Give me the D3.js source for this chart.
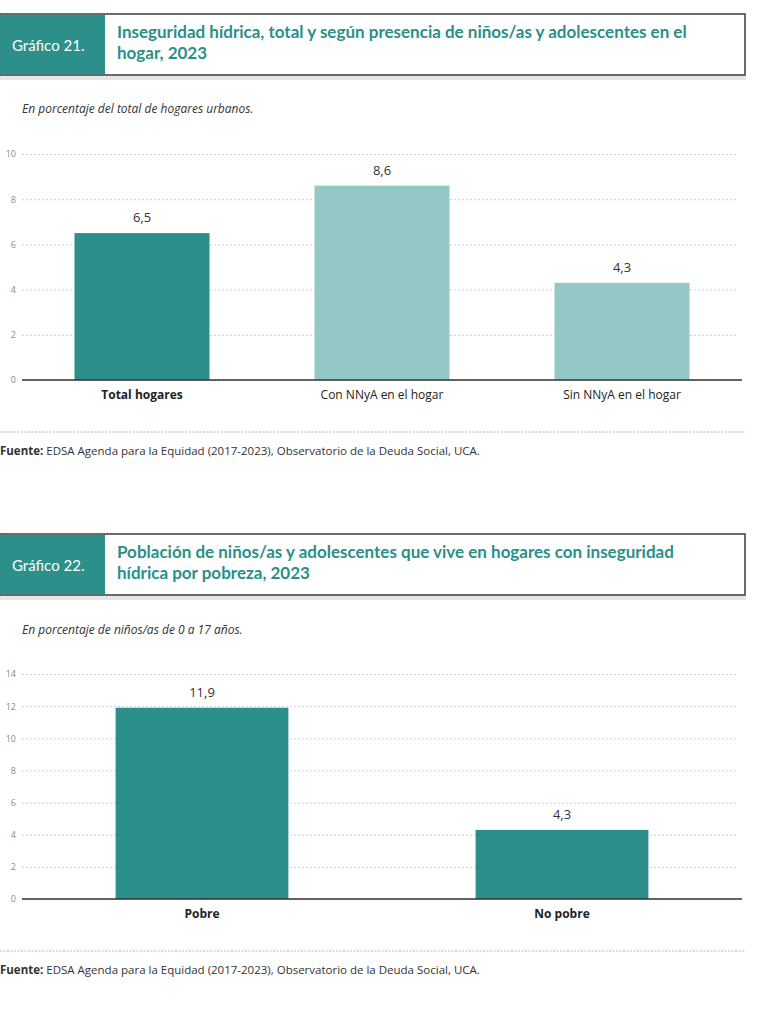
<!DOCTYPE html>
<html>
<head>
<meta charset="utf-8">
<script src="https://cdn.jsdelivr.net/npm/d3@7"></script>
<style>
  body { margin: 0; background: #fff; }
  svg { display: block; font-family: Lato, "Open Sans", sans-serif; }
  .tick text { font-family: "Open Sans", Lato, sans-serif; }
</style>
</head>
<body>
<div class="canvas"></div>
<script>
// grafico 21
const cats1 = ["Total hogares", "Con NNyA en el hogar", "Sin NNyA en el hogar"];
const vals1 = [6.5, 8.6, 4.3];
const ticks1 = [0, 2, 4, 6, 8, 10];
const bold1 = [true, false, false];

// grafico 22
const cats2 = ["Pobre", "No pobre"];
const vals2 = [11.9, 4.3];
const ticks2 = [0, 2, 4, 6, 8, 10, 12, 14];

const dark = '#2d8f89';
const light = '#93c8c7';

const svg = d3.select('.canvas')
  .append('svg')
  .attr('width', 768)
  .attr('height', 1024);

function header(top, num, lines) {
  const g = svg.append('g').attr('transform', `translate(0, ${top})`);
  // soft shadow under the box
  g.append('rect').attr('x', 0).attr('y', 62).attr('width', 746).attr('height', 4).attr('fill', '#e4e6e6');
  g.append('rect').attr('x', 0).attr('y', 0).attr('width', 745).attr('height', 61)
    .attr('fill', '#fff').attr('stroke', '#3a3a3a').attr('stroke-width', 1.5);
  g.append('rect').attr('x', 0).attr('y', 0.75).attr('width', 105).attr('height', 59.5).attr('fill', dark);
  g.append('text').attr('x', 12).attr('y', 37).attr('fill', '#fff')
    .style('font-size', '15px').text(num);
  g.selectAll('.ttl').data(lines).enter().append('text')
    .attr('x', 117).attr('y', (d, i) => 24 + i * 21)
    .attr('fill', '#2a8f88').style('font-size', '17px').style('font-weight', 700)
    .text(d => d);
}

function chart(opt) {
  const left = 22, right = 742;
  const x = d3.scaleBand().domain(opt.cats).range([left, right]).paddingInner(opt.pad).paddingOuter(opt.pad / 2);
  const y = d3.scaleLinear().domain([0, opt.max]).range([opt.y0, opt.y1]);

  svg.append('text').attr('x', 22).attr('y', opt.subY)
    .style('font-family', '"Open Sans", sans-serif')
    .style('font-size', '12px').style('font-style', 'italic').attr('fill', '#333')
    .text(opt.sub);

  const grid = svg.append('g')
    .attr('transform', `translate(${left}, 0)`)
    .call(d3.axisLeft(y).tickValues(opt.ticks).tickSize(-(right - left - 4)).tickPadding(6).tickFormat(d3.format('d')));
  grid.select('.domain').remove();
  grid.selectAll('line').attr('stroke', '#cfcfcf').attr('stroke-dasharray', '2,2');
  grid.selectAll('text').attr('fill', '#8a8a8a').style('font-size', '9px');

  svg.selectAll('.bar' + opt.id).data(opt.vals).enter().append('rect')
    .attr('x', (d, i) => x(opt.cats[i]))
    .attr('y', d => y(d))
    .attr('width', x.bandwidth())
    .attr('height', d => y(0) - y(d))
    .attr('fill', (d, i) => opt.colors[i]);

  svg.selectAll('.val' + opt.id).data(opt.vals).enter().append('text')
    .attr('x', (d, i) => x(opt.cats[i]) + x.bandwidth() / 2)
    .attr('y', d => y(d) - 11)
    .attr('text-anchor', 'middle').attr('fill', '#333')
    .style('font-family', '"Open Sans", sans-serif').style('font-size', '13px')
    .text(d => d3.format('.1f')(d).replace('.', ','));

  const ax = svg.append('g')
    .attr('transform', `translate(0, ${y(0)})`)
    .call(d3.axisBottom(x).tickSize(0).tickPadding(10));
  ax.select('.domain').attr('d', `M${left},0H${right}`).attr('stroke', '#333').attr('stroke-width', 1.5);
  ax.selectAll('text').attr('fill', '#222').style('font-size', '12px')
    .style('font-weight', (d, i) => opt.bold[i] ? 700 : 400);

  svg.append('line').attr('x1', 0).attr('x2', 746).attr('y1', opt.sepY).attr('y2', opt.sepY)
    .attr('stroke', '#b5b5b5').attr('stroke-dasharray', '2,1.5');
  const f = svg.append('text').attr('x', 0).attr('y', opt.sepY + 23)
    .style('font-family', '"Open Sans", sans-serif')
    .style('font-size', '11.5px').attr('fill', '#333');
  f.append('tspan').style('font-weight', 700).text('Fuente:');
  f.append('tspan').text(' EDSA Agenda para la Equidad (2017-2023), Observatorio de la Deuda Social, UCA.');
}

header(14, 'Gráfico 21.', [
  'Inseguridad hídrica, total y según presencia de niños/as y adolescentes en el',
  'hogar, 2023'
]);
chart({
  id: 1, cats: cats1, vals: vals1, ticks: ticks1, max: 10, bold: bold1,
  colors: [dark, light, light], pad: 0.4375,
  y0: 380, y1: 154, sub: 'En porcentaje del total de hogares urbanos.', subY: 113, sepY: 432
});

header(534, 'Gráfico 22.', [
  'Población de niños/as y adolescentes que vive en hogares con inseguridad',
  'hídrica por pobreza, 2023'
]);
chart({
  id: 2, cats: cats2, vals: vals2, ticks: ticks2, max: 14, bold: [true, true],
  colors: [dark, dark], pad: 0.52,
  y0: 899, y1: 674, sub: 'En porcentaje de niños/as de 0 a 17 años.', subY: 634, sepY: 951
});
</script>
</body>
</html>
